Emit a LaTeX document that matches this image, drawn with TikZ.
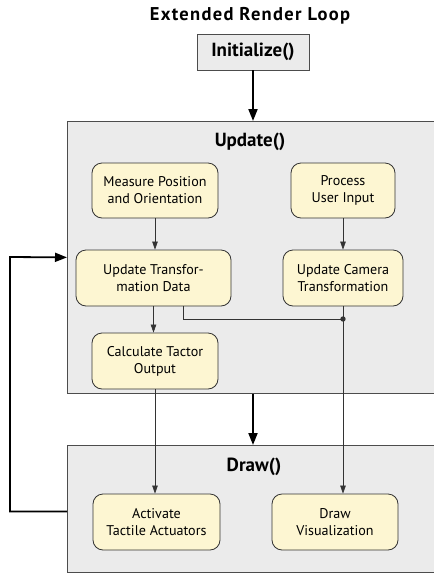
\documentclass[tikz,border=0pt]{standalone}
\usepackage{fontspec}
\setmainfont{PT Sans}
\newfontfamily\titlefont[LetterSpace=7]{PT Sans}
\usetikzlibrary{arrows.meta,calc}
\definecolor{boxfill}{HTML}{FDF6D2}
\definecolor{bigfill}{HTML}{EBEBEB}
\definecolor{edge}{HTML}{333333}
\begin{document}
\begin{tikzpicture}[x=1pt,y=-1pt,
  every node/.style={font=\fontsize{14.1}{17}\selectfont, align=center, inner sep=0pt},
  stepbox/.style={draw=edge, line width=0.8pt, fill=boxfill, rounded corners=10pt},
  bigbox/.style={draw=black!70, line width=0.8pt, fill=bigfill},
  initbox/.style={draw=black!70, line width=0.9pt, fill=bigfill},
  title/.style={font=\titlefont\fontsize{18.5}{20}\selectfont\bfseries},
  heading/.style={font=\fontsize{19}{20}\selectfont\bfseries},
  thin/.style={draw=edge, line width=0.6pt, -{Triangle[length=8pt,width=5.5pt]}},
  thick/.style={draw=black, line width=1.8pt, -{Triangle[length=12pt,width=9pt]}}
]
\useasboundingbox (0,0) rectangle (434,574);
\clip (0,0) rectangle (434,574);

\node[title] (ttl) at (250,16) {Extended Render Loop};
\node[initbox, minimum width=112pt, minimum height=36pt, heading] (init) at (253,52) {Initialize()};

\node[bigbox, minimum width=380pt, minimum height=272pt, anchor=north west] (update) at (67,121) {};
\node[heading] (updt) at (250,142) {Update()};

\node[bigbox, minimum width=380pt, minimum height=127pt, anchor=north west] (drawbox) at (67,445) {};
\node[heading] (drawt) at (254,467) {Draw()};

\node[stepbox, minimum width=126pt, minimum height=55pt] (meas) at (155,190.5) {Measure Position\\and Orientation};
\node[stepbox, minimum width=104pt, minimum height=55pt] (proc) at (343,190.5) {Process\\User Input};
\node[stepbox, minimum width=155pt, minimum height=56pt] (utd) at (153.5,278) {Update Transfor-\\mation Data};
\node[stepbox, minimum width=120pt, minimum height=56pt] (ucam) at (343,278) {Update Camera\\Transformation};
\node[stepbox, minimum width=126pt, minimum height=56pt] (calc) at (155,361) {Calculate Tactor\\Output};
\node[stepbox, minimum width=127pt, minimum height=56pt] (act) at (156.5,522) {Activate\\Tactile Actuators};
\node[stepbox, minimum width=126pt, minimum height=56pt] (dvis) at (335,522) {Draw\\Visualization};

\coordinate (junc) at (343,319);

\draw[thick] (init.south) -- (init.south |- update.north);
\draw[thick] (update.south -| init.south) -- (drawbox.north -| init.south);

\draw[thin] (meas.south) -- (meas.south |- utd.north);
\draw[thin] (proc.south) -- (ucam.north);
\draw[thin] (utd.south) -- (utd.south |- calc.north);
\draw[thin] (calc.south) -- (calc.south |- act.north);
\draw[thin] (ucam.south) -- (ucam.south |- dvis.north);
\draw[draw=edge, line width=0.6pt] ([xshift=30pt]utd.south) |- (junc);
\fill[edge] (junc) circle (2.7pt);

\draw[line width=1.8pt, -{Triangle[length=12pt,width=9pt]}] ([yshift=-2.5pt]drawbox.west) -| (10,257) -- (update.west);
\end{tikzpicture}
\end{document}
